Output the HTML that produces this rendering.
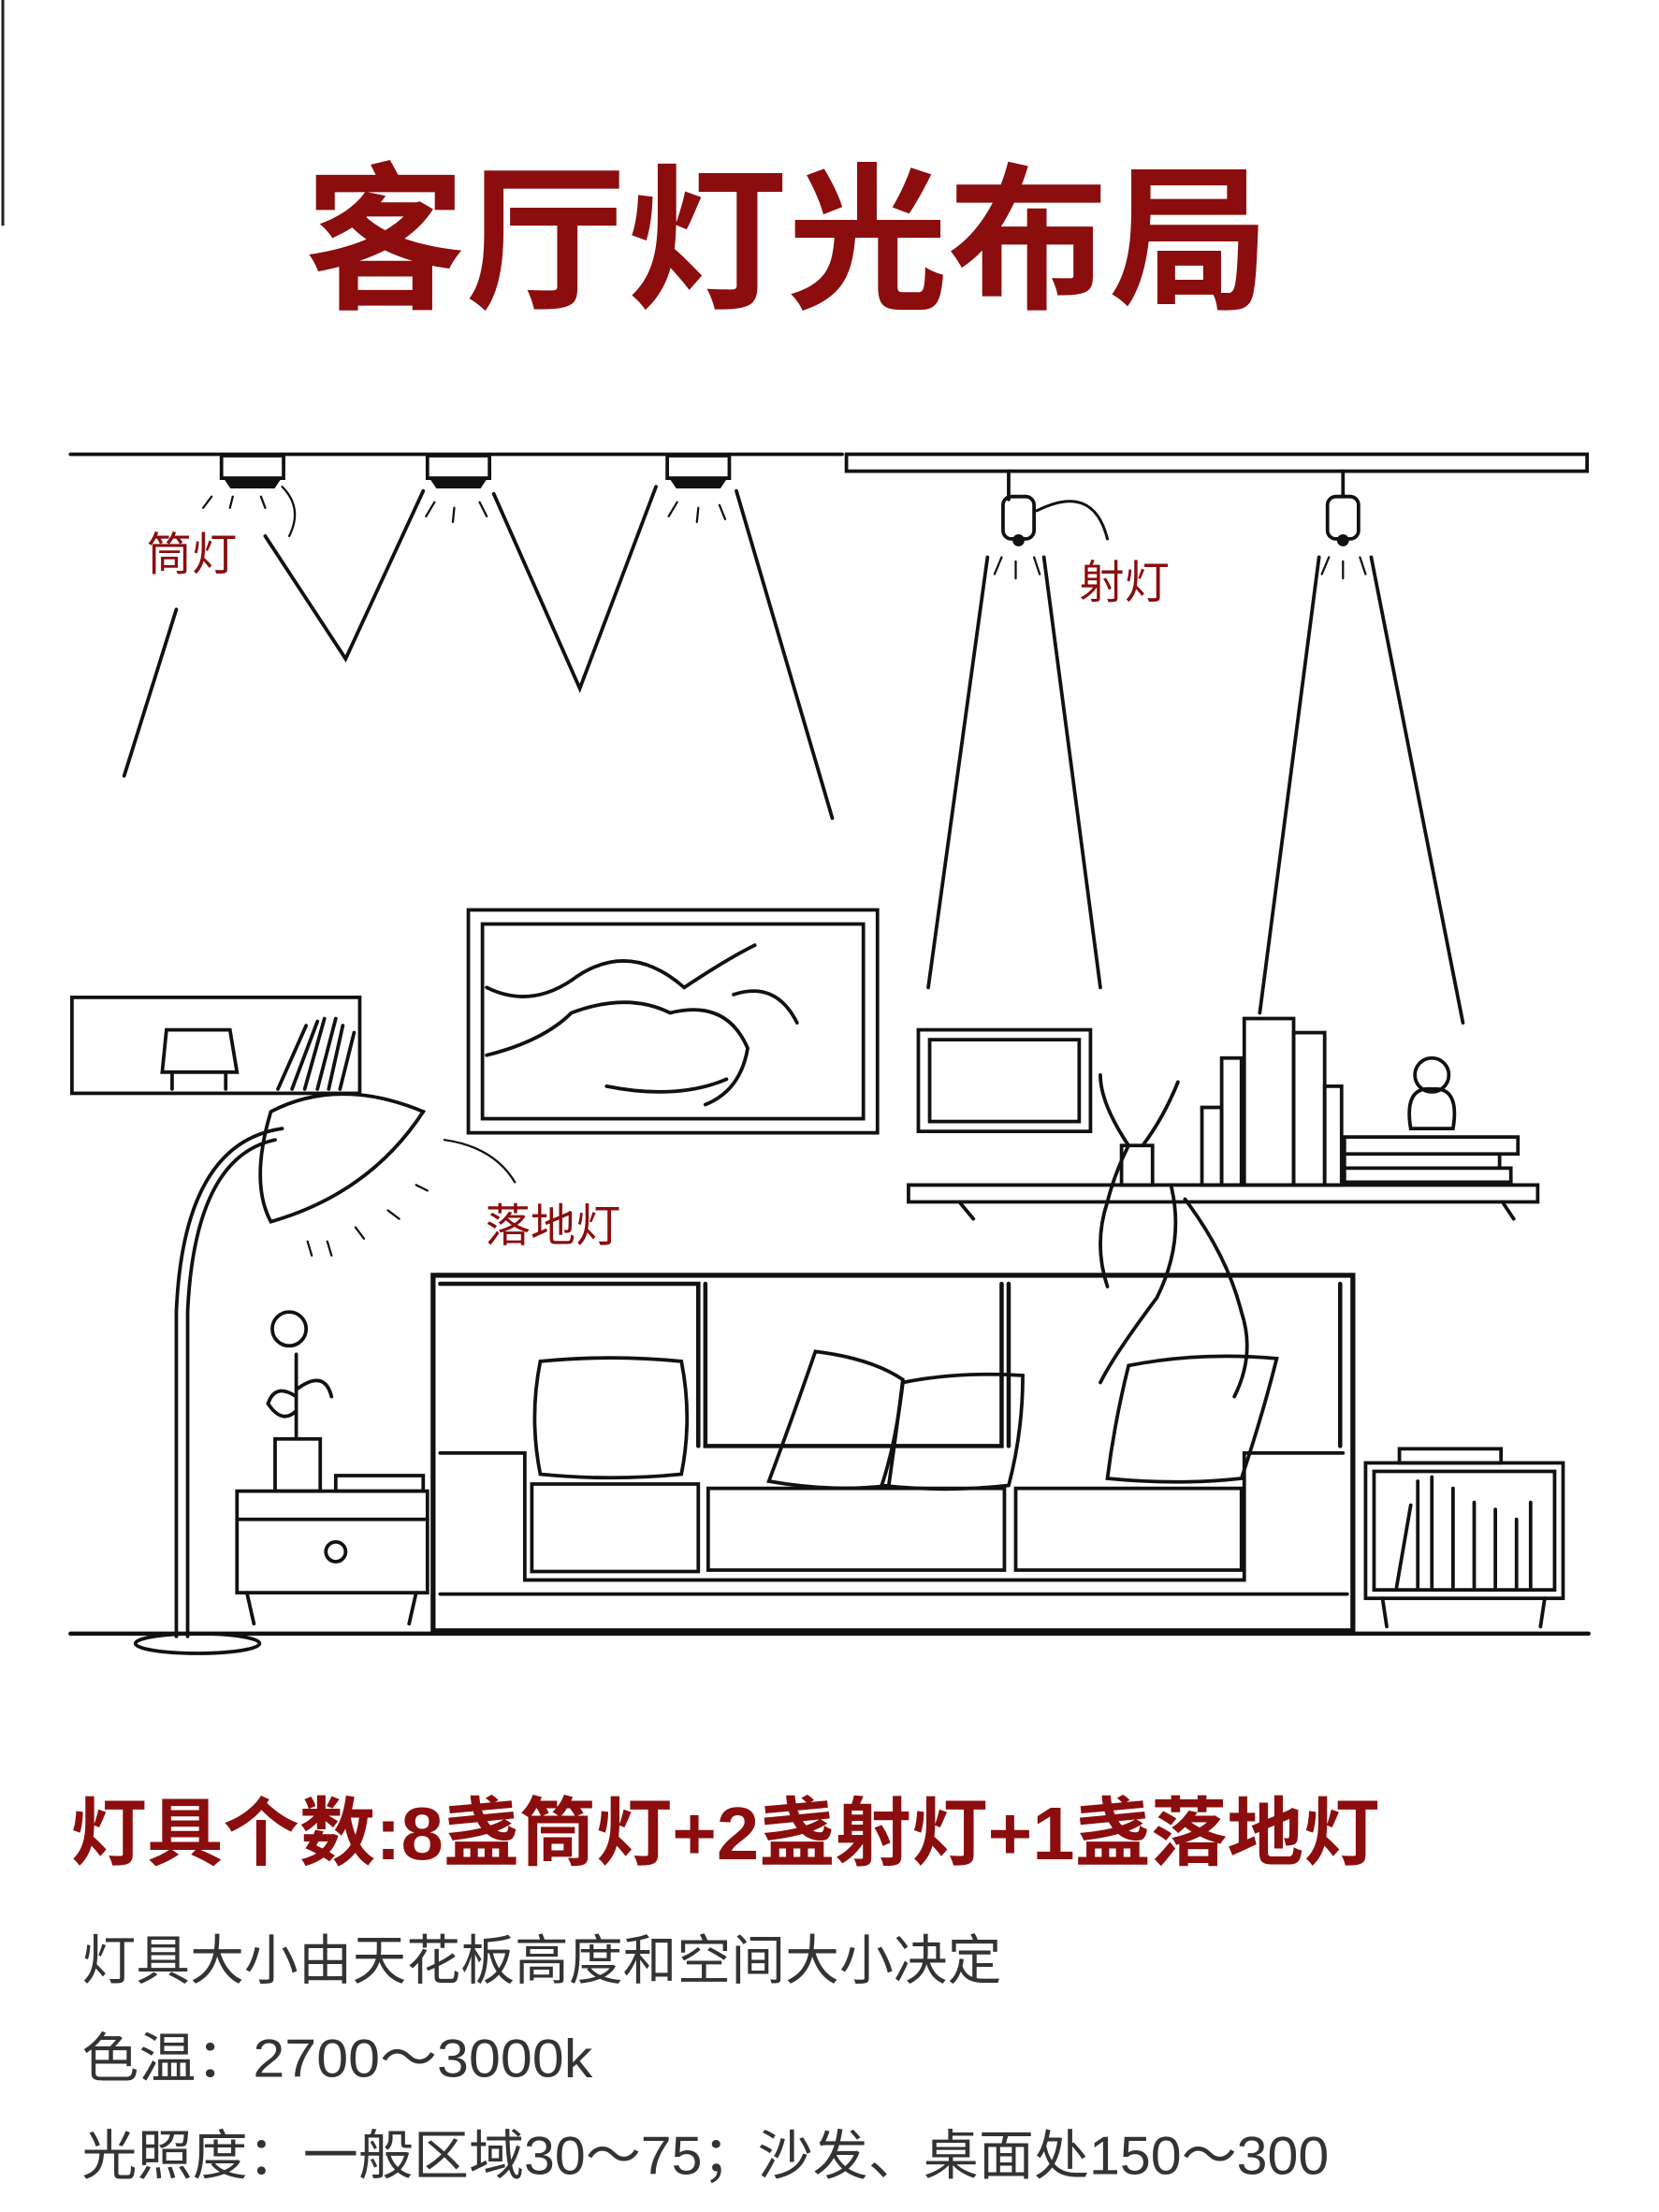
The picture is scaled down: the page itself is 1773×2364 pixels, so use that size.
<!DOCTYPE html>
<html><head><meta charset="utf-8"><style>
html,body{margin:0;padding:0;background:#fff;}
svg{display:block}
text{font-family:"Liberation Sans","Noto Sans CJK SC",sans-serif;}
</style></head><body>
<svg width="1773" height="2364" viewBox="0 0 1176 1568" preserveAspectRatio="none" xmlns="http://www.w3.org/2000/svg">
<rect width="1176" height="1568" fill="#fff"/>
<line x1="2" y1="0" x2="2" y2="160" stroke="#222" stroke-width="2"/>
<text x="216" y="210" font-size="112" font-weight="bold" fill="#8b0d0d" textLength="684" lengthAdjust="spacingAndGlyphs">客厅灯光布局</text>
<g stroke="#111" fill="none" stroke-width="2.5" stroke-linecap="round">
<line x1="50" y1="322" x2="597" y2="322"/>
<rect x="600" y="322" width="525" height="12"/>
<rect x="157" y="323" width="44" height="16"/><path d="M160 339 h38 l-4 6 h-30z" fill="#111"/>
<rect x="303" y="323" width="44" height="16"/><path d="M306 339 h38 l-4 6 h-30z" fill="#111"/>
<rect x="473" y="323" width="44" height="16"/><path d="M476 339 h38 l-4 6 h-30z" fill="#111"/>
<path d="M88 550 L125 432"/>
<path d="M188 380 L245 467 L300 348"/>
<path d="M350 350 L411 488 L465 345"/>
<path d="M522 348 L590 580"/>
<path d="M200 345 q15 15 5 35" stroke-width="1.5"/>
<path d="M715 334 v20"/>
<rect x="711" y="352" width="22" height="30" rx="6"/><circle cx="722" cy="383" r="3" fill="#111"/>
<path d="M735 362 q40 -20 50 20" stroke-width="2"/>
<rect x="941" y="352" width="22" height="30" rx="6"/><path d="M952 334 v18"/><circle cx="952" cy="383" r="3" fill="#111"/>
<path d="M700 395 L658 700"/><path d="M740 395 L780 700"/>
<path d="M935 395 L893 718"/><path d="M972 395 L1037 725"/>
<g stroke-width="1.5">
<path d="M150 352 l-6 8 M165 352 l-2 8 M185 352 l3 8 M308 356 l-6 10 M322 360 l-1 10 M340 356 l5 10 M480 356 l-6 10 M495 360 l-1 10 M510 358 l4 10 M710 395 l-5 12 M720 398 v12 M733 395 l4 12 M942 395 l-5 12 M952 398 v12 M964 395 l4 12"/>
</g>
<rect x="51" y="707" width="204" height="68"/>
<path d="M118 730 h45 l5 30 h-53z M122 760 v12 M160 760 v12"/>
<path d="M197 772 l20 -45 M207 772 l18 -48 M216 772 l14 -50 M225 772 l13 -50 M233 772 l10 -45 M241 772 l10 -40"/>
<rect x="332" y="645" width="290" height="158"/>
<rect x="342" y="655" width="270" height="138"/>
<path d="M345 700 q30 15 60 -5 q40 -30 80 5 q30 -20 50 -30 M345 748 q40 -10 60 -30 q40 -15 70 0 q40 -10 55 25 q-5 30 -30 40 M430 770 q50 10 85 -5 M520 705 q30 -10 45 20"/>
<rect x="651" y="730" width="122" height="72"/><rect x="659" y="737" width="106" height="58"/>
<path d="M644 840 h446 v12 h-446z M680 852 l10 12 M1065 852 l8 12"/>
<rect x="866" y="750" width="14" height="90"/><rect x="882" y="722" width="35" height="118"/><rect x="917" y="732" width="22" height="108"/><rect x="939" y="770" width="12" height="70"/><rect x="852" y="785" width="14" height="55"/>
<path d="M953 806 h123 v12 h-123z M953 818 h110 v10 h-110z M953 828 h118 v10 h-118z"/>
<circle cx="1015" cy="762" r="12"/><path d="M1000 800 q-5 -30 15 -28 q20 -2 15 28z"/>
<rect x="795" y="812" width="22" height="28"/>
<path d="M800 812 q-20 -30 -20 -50 M810 812 q15 -20 25 -45 M800 812 q-10 20 -15 40 q-10 30 0 60 M830 840 q10 40 -10 80 q-30 40 -40 60 M840 850 q30 40 40 80 q10 30 -5 60"/>
<path d="M300 788 q-60 -25 -108 0 q-15 50 0 78 q70 -20 108 -78z"/>
<path d="M200 800 q-70 10 -75 130 v230 M133 1160 v-230 q5 -110 62 -122"/>
<ellipse cx="140" cy="1165" rx="44" ry="7"/>
<path d="M315 808 q35 5 50 30" stroke-width="1.5"/>
<path d="M218 880 l3 10 M232 880 l3 10 M252 870 l6 8 M275 858 l8 6 M295 840 l8 4" stroke-width="1.5"/>
<rect x="168" y="1057" width="135" height="72"/><line x1="168" y1="1077" x2="303" y2="1077"/>
<circle cx="238" cy="1100" r="7"/><path d="M175 1129 l5 22 M295 1129 l-5 22"/>
<rect x="238" y="1046" width="62" height="11"/>
<rect x="195" y="1020" width="32" height="37"/><path d="M210 1020 v-60 M210 990 q-15 -10 -20 5 q10 15 20 5 M210 985 q20 -15 25 5"/><circle cx="205" cy="942" r="12"/>
<rect x="307" y="904" width="652" height="252" stroke-width="3.5"/>
<path d="M312 910 h183 v115 M500 910 v115 h210 v-115 M715 910 v115 M950 910 v115" stroke-width="3"/>
<path d="M312 1030 h60 v90 h510 v-90 h70"/>
<path d="M377 1052 h118 v62 h-118z M502 1055 h210 v58 h-210z M720 1055 h160 v58 h-160z" />
<line x1="312" y1="1130" x2="955" y2="1130"/>
<path d="M383 965 q50 -5 100 0 q8 40 0 80 q-50 5 -100 0 q-8 -40 0 -80z"/>
<path d="M578 958 q40 5 62 20 q-5 40 -10 75 q-40 5 -85 -3 q15 -40 33 -92z"/>
<path d="M640 980 q40 -8 85 -5 q0 40 -10 78 q-45 5 -90 0 q10 -30 15 -73z"/>
<path d="M800 968 q50 -10 105 -5 q-10 40 -25 85 q-45 5 -95 0 q5 -40 15 -80z"/>
<rect x="968" y="1037" width="140" height="96"/><rect x="974" y="1043" width="128" height="84"/>
<rect x="992" y="1027" width="72" height="10"/>
<path d="M990 1125 l10 -58 M1005 1125 v-75 M1015 1125 v-78 M1030 1125 v-70 M1045 1125 v-60 M1060 1125 v-55 M1075 1125 v-48 M1085 1125 v-60 M980 1133 l3 20 M1095 1133 l-3 20"/>
<line x1="50" y1="1158" x2="1126" y2="1158" stroke-width="3"/>
</g>
<g fill="#8b0d0d" font-size="32">
<text x="104" y="404">筒灯</text>
<text x="765" y="424">射灯</text>
<text x="344" y="880">落地灯</text>
</g>
<text x="50" y="1318" font-size="53" font-weight="bold" fill="#8b0d0d" textLength="928" lengthAdjust="spacingAndGlyphs">灯具个数:8盏筒灯+2盏射灯+1盏落地灯</text>
<g fill="#333" font-size="38">
<text x="58" y="1403" textLength="652" lengthAdjust="spacingAndGlyphs">灯具大小由天花板高度和空间大小决定</text>
<text x="58" y="1472" textLength="362" lengthAdjust="spacingAndGlyphs">色温：2700～3000k</text>
<text x="58" y="1541" textLength="884" lengthAdjust="spacingAndGlyphs">光照度：一般区域30～75；沙发、桌面处150～300</text>
</g>
</svg>
</body></html>
